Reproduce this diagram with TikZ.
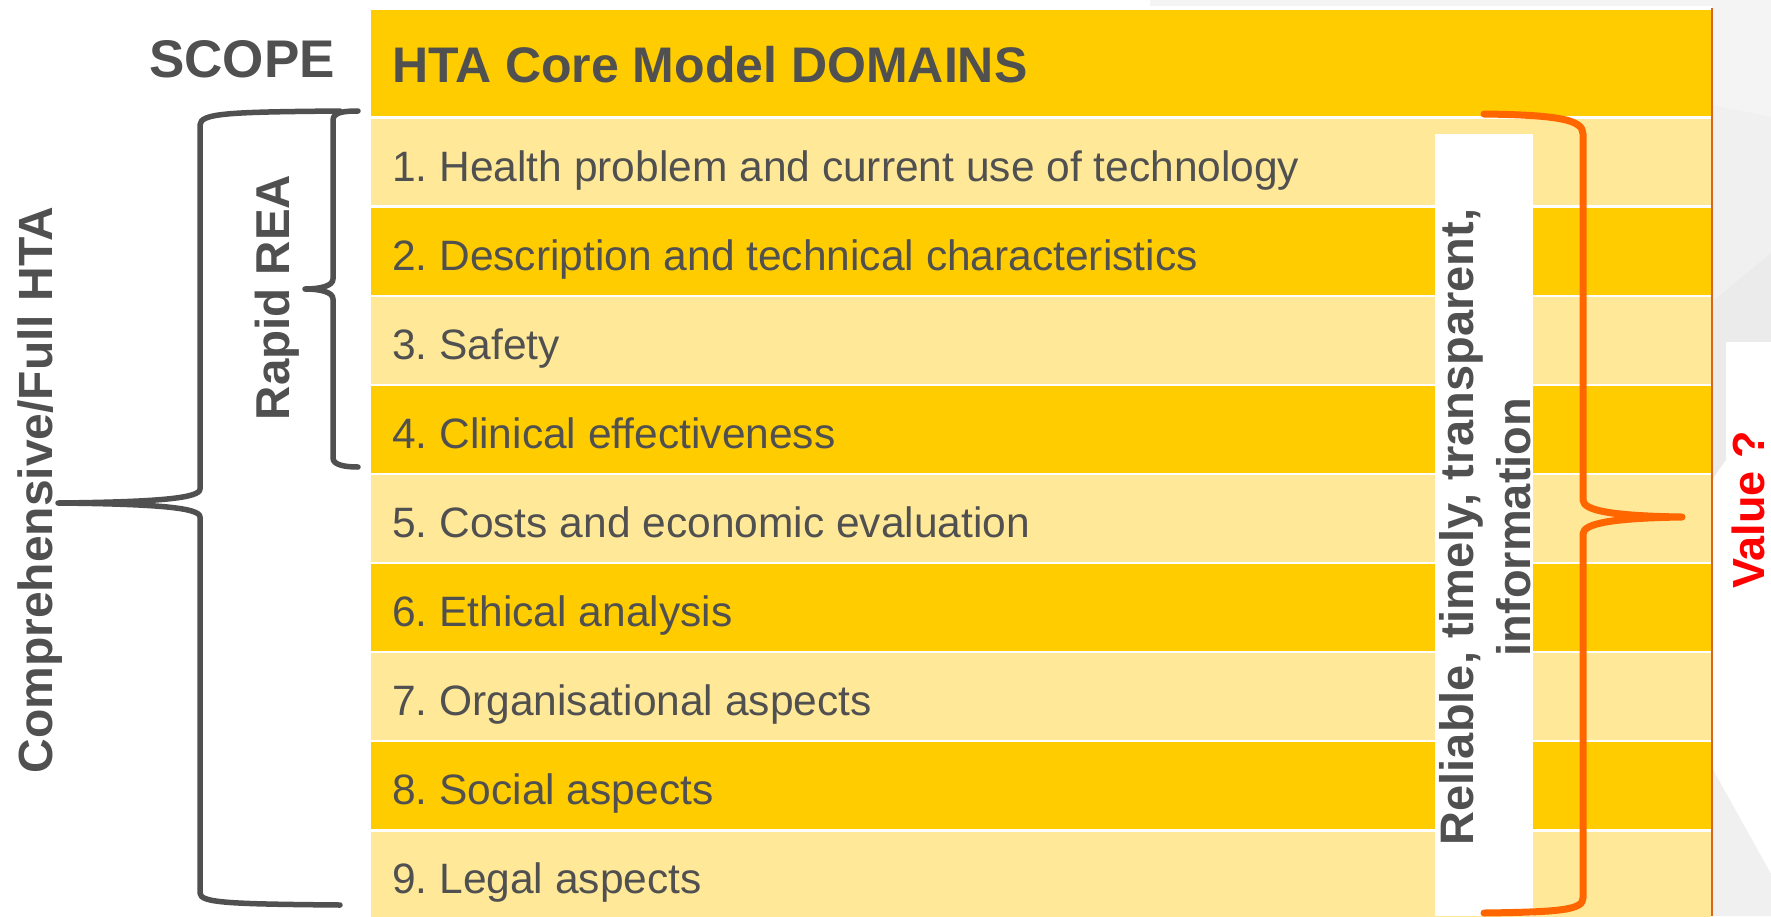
\documentclass[tikz,border=0pt]{standalone}
\usepackage{fontspec}
\setmainfont{Liberation Sans}
\frenchspacing
\definecolor{gold}{HTML}{FFCC00}
\definecolor{paleg}{HTML}{FFE999}
\definecolor{txtgray}{HTML}{505050}
\definecolor{brorange}{HTML}{FF6600}
\definecolor{edgeor}{HTML}{D9661A}
\definecolor{bgA}{HTML}{F4F4F4}
\definecolor{bgB}{HTML}{EBEBEB}
\definecolor{bgC}{HTML}{F0F0F0}
\definecolor{valred}{HTML}{FF0000}
\begin{document}
\begin{tikzpicture}[x=1pt,y=-1pt,
  rowtxt/.style={anchor=base west, inner sep=0pt, text=txtgray, font=\fontsize{42.5}{50}\selectfont},
  boldlbl/.style={inner sep=0pt, text=txtgray, font=\fontsize{48}{56}\selectfont\bfseries},
  graybrace/.style={draw=txtgray, line width=5.5pt, line cap=round, line join=round},
  orbrace/.style={draw=brorange, line width=7pt, line cap=round, line join=round}]
\useasboundingbox (0,0) rectangle (1771,916);
\clip (0,0) rectangle (1771,916);
% background
\fill[white] (0,0) rectangle (1771,916);
\fill[bgA] (1150,0) rectangle (1771,7);
\fill[bgA] (1712,0) rectangle (1771,916);
\fill[bgC] (1712,105) -- (1771,117) -- (1771,253) -- (1712,302) -- cycle;
\fill[bgB] (1712,302) -- (1771,253) -- (1771,342) -- (1726,342) -- (1726,460) -- (1712,480) -- cycle;
\fill[white] (1726,342) -- (1771,342) -- (1771,874) -- (1712,768) -- (1712,480) -- (1726,460) -- cycle;
\fill[bgC] (1712,768) -- (1771,874) -- (1771,916) -- (1712,916) -- cycle;
% table
\fill[white] (371,6) rectangle (1712,9.5);
\fill[gold] (371,9.5) rectangle (1711,116.3);
\foreach \k in {1,...,9}{
  \pgfmathsetmacro{\ytop}{117.5+89.1*(\k-1)+1.2}
  \pgfmathsetmacro{\ybot}{117.5+89.1*\k-1.2}
  \pgfmathtruncatemacro{\odd}{mod(\k,2)}
  \ifnum\odd=1 \fill[paleg] (371,\ytop) rectangle (1711,\ybot);
  \else \fill[gold] (371,\ytop) rectangle (1711,\ybot); \fi
}
\draw[edgeor, line width=1.5pt] (1712,8) -- (1712,916);
% header and scope
\node[anchor=base west, inner sep=0pt, text=txtgray, font=\fontsize{50}{60}\selectfont\bfseries] (hdr) at (392,82) {HTA Core Model DOMAINS};
\node[anchor=base east, inner sep=0pt, text=txtgray, font=\fontsize{53}{60}\selectfont\bfseries] (scope) at (335,77) {SCOPE};
% rows
\node[rowtxt] (r1) at (392,181) {1. Health problem and current use of technology};
\node[rowtxt] (r2) at (392,270.1) {2. Description and technical characteristics};
\node[rowtxt] (r3) at (392,359.2) {3. Safety};
\node[rowtxt] (r4) at (392,448.3) {4. Clinical effectiveness};
\node[rowtxt] (r5) at (392,537.4) {5. Costs and economic evaluation};
\node[rowtxt] (r6) at (392,626.5) {6. Ethical analysis};
\node[rowtxt] (r7) at (392,715.6) {7. Organisational aspects};
\node[rowtxt] (r8) at (392,804.7) {8. Social aspects};
\node[rowtxt] (r9) at (392,893.8) {9. Legal aspects};
% white box and vertical text
\fill[white] (1435,134) rectangle (1533,916);
\node[boldlbl, rotate=90, anchor=base, font=\fontsize{47}{56}\selectfont\bfseries] (rel1) at (1473,527) {Reliable, timely, transparent,};
\node[boldlbl, rotate=90, anchor=base, font=\fontsize{47}{56}\selectfont\bfseries] (rel2) at (1530,527) {information};
\node[boldlbl, rotate=90, anchor=base] (comp) at (52,490) {Comprehensive/Full HTA};
\node[boldlbl, rotate=90, anchor=base, font=\fontsize{47.5}{56}\selectfont\bfseries] (rapid) at (289,297.5) {Rapid REA};
\node[inner sep=0pt, rotate=90, anchor=base, text=valred, font=\fontsize{45}{54}\selectfont\bfseries] (value) at (1764,510) {Value ?};
% braces
\draw[graybrace] (340,111) .. controls (230,112) and (200,113) .. (200,125) -- (200,489)
  .. controls (200,498) and (160,502) .. (58,503)
  .. controls (160,504) and (200,508) .. (200,517) -- (200,893)
  .. controls (200,903) and (230,904) .. (340,905);
\draw[graybrace] (358,111) .. controls (345,111) and (333,112) .. (333,120) -- (333,279)
  .. controls (333,286) and (320,289) .. (305,289)
  .. controls (320,289) and (333,292) .. (333,299) -- (333,458)
  .. controls (333,465) and (345,467) .. (358,467);
\draw[orbrace] (1484,114) .. controls (1560,115) and (1583,120) .. (1583,134) -- (1583,500)
  .. controls (1583,511) and (1615,516) .. (1682,517)
  .. controls (1615,518) and (1583,523) .. (1583,534) -- (1583,898)
  .. controls (1583,910) and (1560,912) .. (1484,913);
\end{tikzpicture}
\end{document}
